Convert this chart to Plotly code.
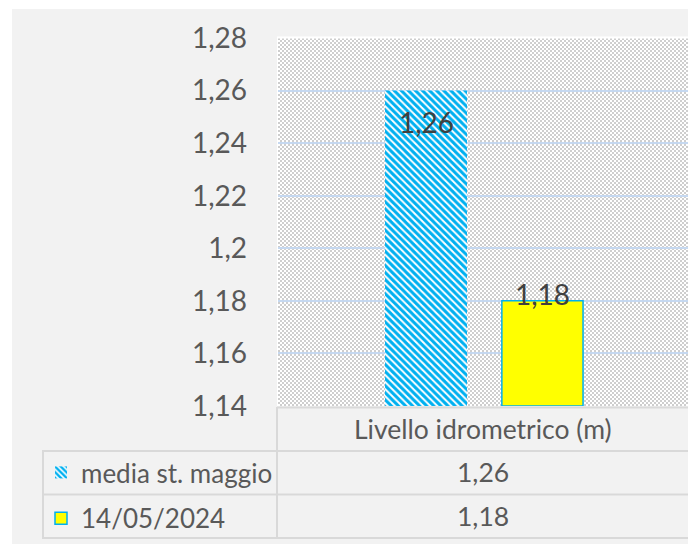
import base64
import struct
import zlib

import numpy as np
import plotly.graph_objects as go

# ---- data -------------------------------------------------------------
category = ["Livello idrometrico (m)"]
series_names = ["media st. maggio", "14/05/2024"]
series_values = [1.26, 1.18]
y_ticks = [1.14, 1.16, 1.18, 1.20, 1.22, 1.24, 1.26, 1.28]
y_tick_labels = ["1,14", "1,16", "1,18", "1,2", "1,22", "1,24", "1,26", "1,28"]
y_floor = 1.14

# ---- geometry (pixels) -------------------------------------------------
W, H = 688, 544
PL, PR, PT, PB = 278, 688, 38, 406          # plot area box
PW, PH = PR - PL, PB - PT

FONT = "Lato"
TXT = "#595959"
LINE = "#d9d9d9"
BLUE = "#00b0f0"


def px(x):
    return (x - PL) / PW


def py(y):
    return (PB - y) / PH


def fmt(v):
    s = f"{v:.2f}".rstrip("0").rstrip(".")
    return s.replace(".", ",")


def checker_uri(w, h, cell=2, c1=(206, 206, 206), c2=(255, 255, 255)):
    yy, xx = np.mgrid[0:h, 0:w]
    mask = ((xx // cell) + (yy // cell)) % 2 == 0
    arr = np.empty((h, w, 3), dtype=np.uint8)
    arr[mask] = c1
    arr[~mask] = c2
    raw = b"".join(b"\x00" + arr[r].tobytes() for r in range(h))

    def chunk(tag, data):
        return (struct.pack(">I", len(data)) + tag + data
                + struct.pack(">I", zlib.crc32(tag + data) & 0xFFFFFFFF))

    png = (b"\x89PNG\r\n\x1a\n"
           + chunk(b"IHDR", struct.pack(">IIBBBBB", w, h, 8, 2, 0, 0, 0))
           + chunk(b"IDAT", zlib.compress(raw, 9))
           + chunk(b"IEND", b""))
    return "data:image/png;base64," + base64.b64encode(png).decode()


# bar placement within the single category slot (category units)
bar_offsets = [-0.239, 0.046]
bar_widths = [0.200, 0.198]

fig = go.Figure()
fig.add_trace(go.Bar(
    x=category, y=[series_values[0] - y_floor], base=y_floor,
    name=series_names[0], offset=bar_offsets[0], width=bar_widths[0],
    marker=dict(color="white", line=dict(width=0),
                pattern=dict(shape="\\", fgcolor=BLUE, bgcolor="white",
                             fgopacity=1, size=5, solidity=0.6)),
    legendgroup="a",
))
fig.add_trace(go.Bar(
    x=category, y=[series_values[1] - y_floor], base=y_floor,
    name=series_names[1], offset=bar_offsets[1], width=bar_widths[1],
    marker=dict(color="#ffff00", line=dict(color=BLUE, width=1.5)),
    legendgroup="b",
))

annotations = []
label_shift = [-31, 7]
for i, v in enumerate(series_values):
    annotations.append(dict(
        x=bar_offsets[i] + bar_widths[i] / 2, y=v, xref="x", yref="y",
        text=fmt(v), showarrow=False, yshift=label_shift[i],
        xanchor="center", yanchor="middle",
        font=dict(family=FONT, size=28, color="#404040"),
    ))

# data table below the plot
cx = px((PL + PR) / 2)
annotations.append(dict(x=cx, y=py(429), xref="paper", yref="paper",
                        text=category[0], showarrow=False,
                        xanchor="center", yanchor="middle",
                        font=dict(family=FONT, size=26.5, color=TXT)))
for v, yc in zip(series_values, [472, 516]):
    annotations.append(dict(x=cx, y=py(yc), xref="paper", yref="paper",
                            text=fmt(v), showarrow=False,
                            xanchor="center", yanchor="middle",
                            font=dict(family=FONT, size=26.5, color=TXT)))

shapes = []


def hline(y, x0, x1, color=LINE, w=2, layer="above"):
    shapes.append(dict(type="line", xref="paper", yref="paper",
                       x0=px(x0), x1=px(x1), y0=py(y), y1=py(y),
                       line=dict(color=color, width=w), layer=layer))


def vline(x, y0, y1, color=LINE, w=2, layer="above"):
    shapes.append(dict(type="line", xref="paper", yref="paper",
                       x0=px(x), x1=px(x), y0=py(y0), y1=py(y1),
                       line=dict(color=color, width=w), layer=layer))


hline(407.5, 277, W)
hline(451, 43, W)
hline(494.5, 43, W)
hline(538, 43, W)
vline(277, 407, 539)
vline(43, 450, 539)
# white frame of the plot area (top and left)
hline(37.5, 277, W, color="white", w=2)
vline(277.5, 37, 406, color="white", w=1)
# white outer margin
shapes.append(dict(type="rect", xref="paper", yref="paper",
                   x0=px(0), x1=px(12), y0=py(0), y1=py(H),
                   fillcolor="white", line=dict(width=0), layer="below"))
shapes.append(dict(type="rect", xref="paper", yref="paper",
                   x0=px(0), x1=px(W), y0=py(0), y1=py(9),
                   fillcolor="white", line=dict(width=0), layer="below"))

fig.update_layout(
    width=W, height=H,
    margin=dict(l=PL, r=W - PR, t=PT, b=H - PB, pad=0),
    paper_bgcolor="#f2f2f2", plot_bgcolor="#ffffff",
    barmode="overlay",
    showlegend=True,
    legend=dict(x=px(41), y=py(449), xanchor="left", yanchor="top",
                orientation="v", traceorder="grouped", tracegroupgap=9,
                bgcolor="rgba(0,0,0,0)", itemwidth=30,
                font=dict(family=FONT, size=26, color=TXT)),
    xaxis=dict(range=[-0.5, 0.5], showticklabels=False, showgrid=False,
               zeroline=False, showline=False, fixedrange=True),
    yaxis=dict(range=[1.14, 1.28], tickvals=y_ticks, ticktext=y_tick_labels,
               showgrid=True, gridcolor="#c5d8f0", gridwidth=2,
               zeroline=False, showline=False, ticks="",
               ticklabelstandoff=30,
               tickfont=dict(family=FONT, size=28, color=TXT)),
    images=[dict(source=checker_uri(PW, PH), xref="paper", yref="paper",
                 x=0, y=1, sizex=1, sizey=1, xanchor="left", yanchor="top",
                 sizing="stretch", layer="below")],
    shapes=shapes,
    annotations=annotations,
)

fig.write_html("out.html")
